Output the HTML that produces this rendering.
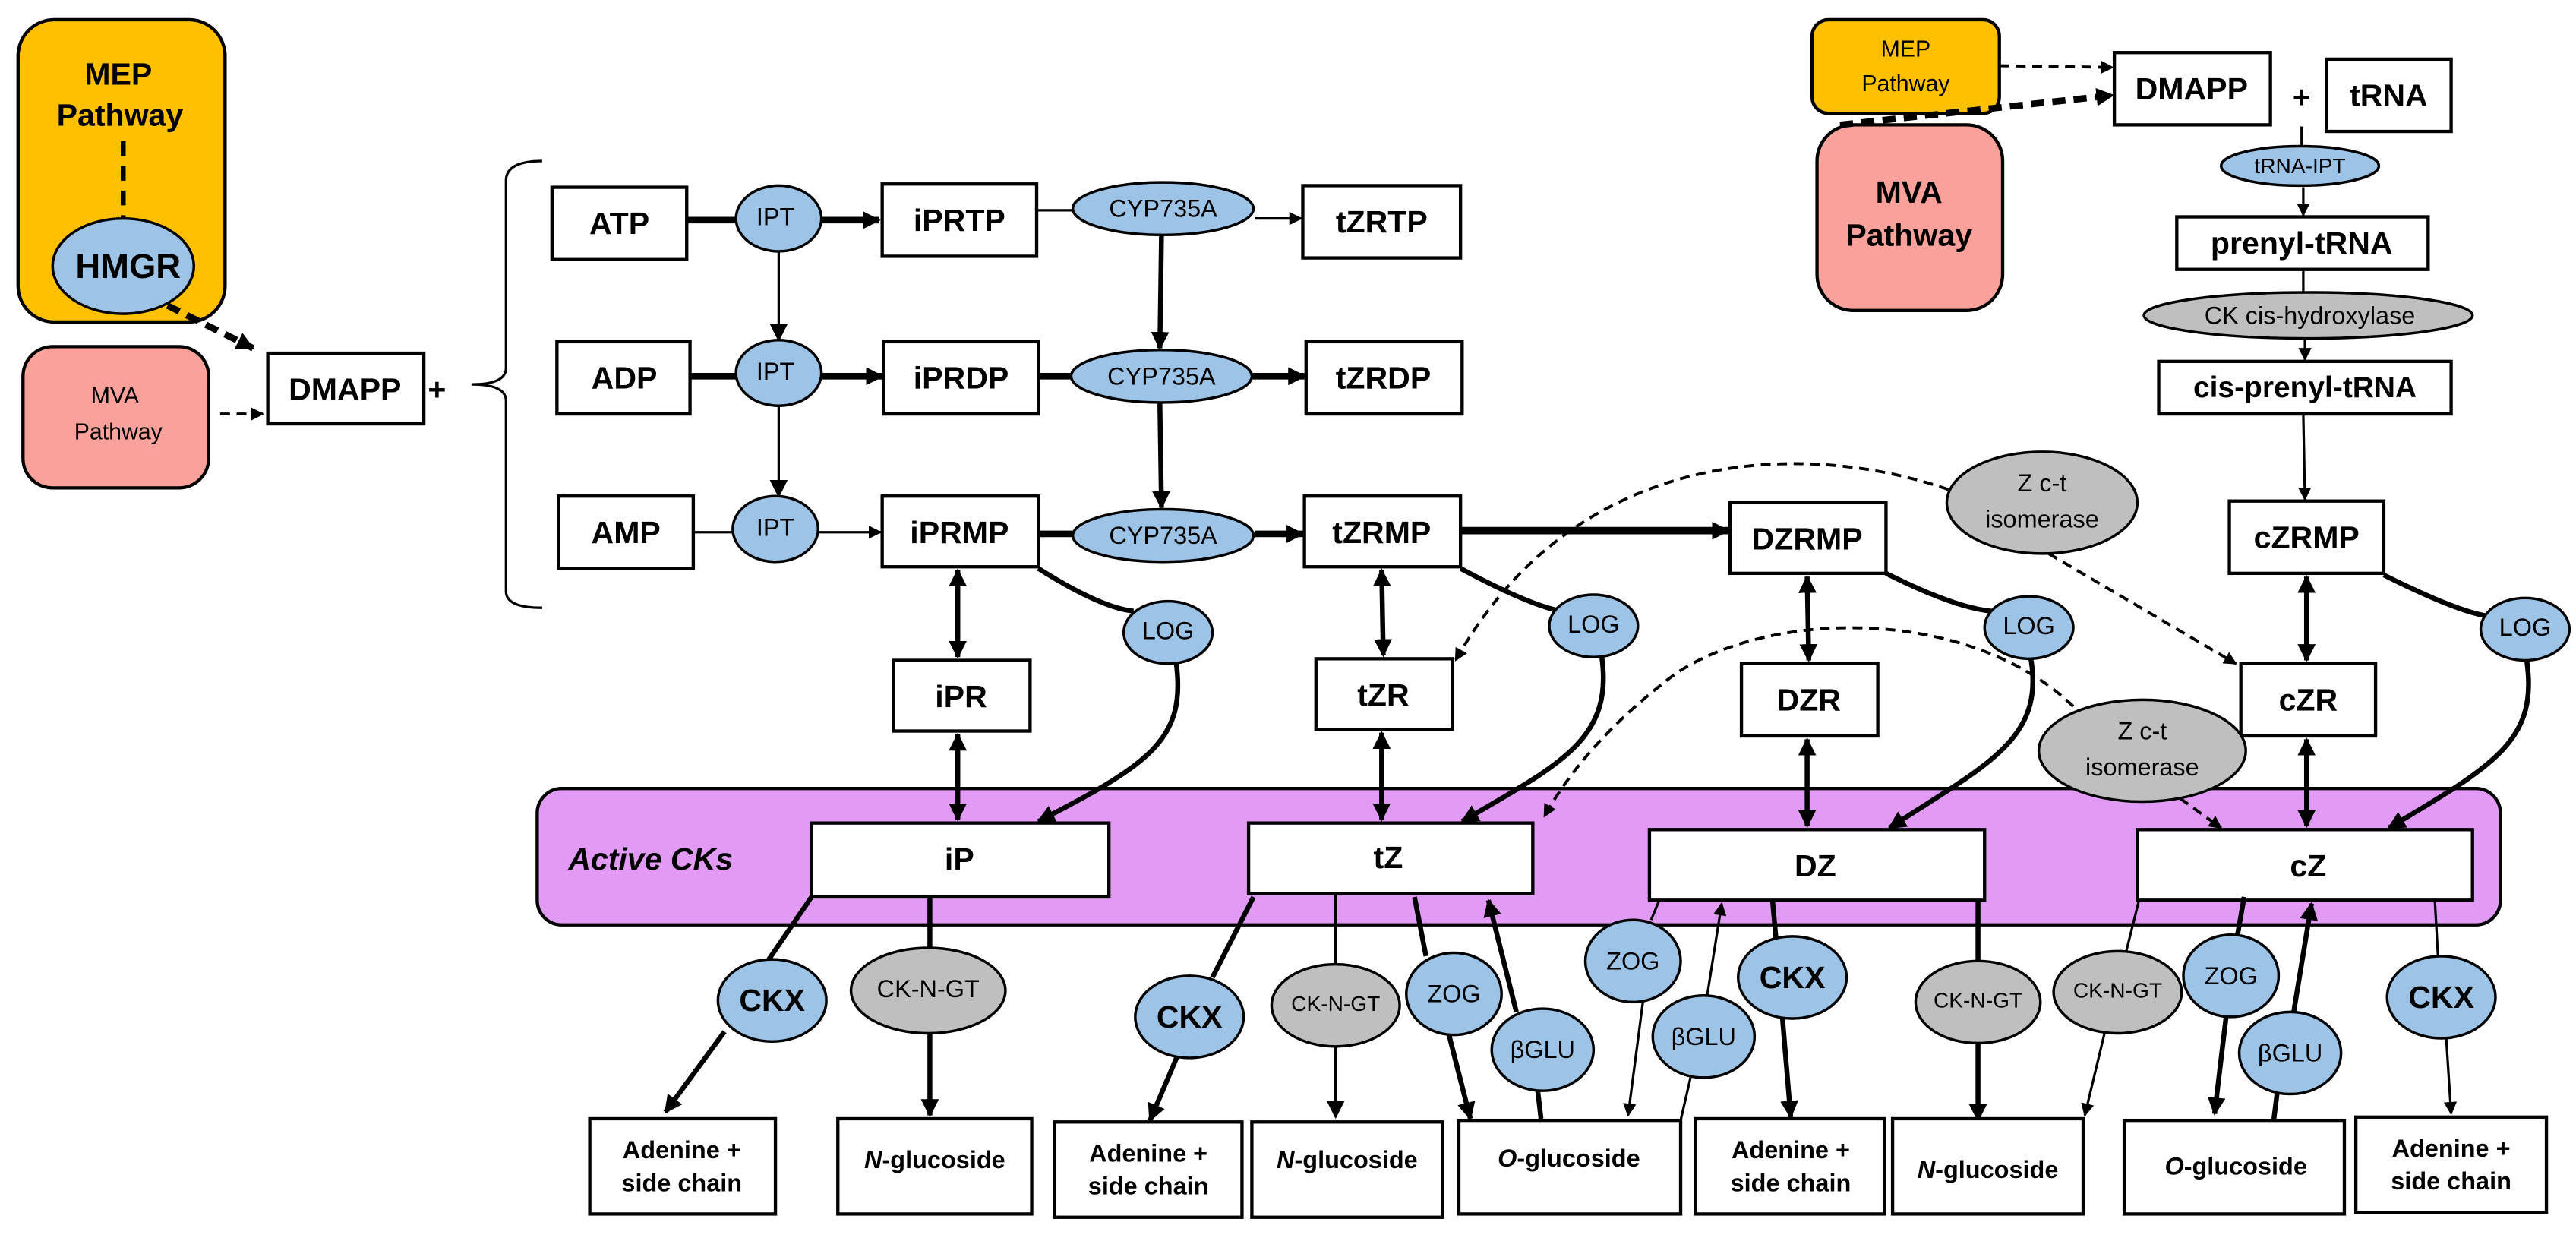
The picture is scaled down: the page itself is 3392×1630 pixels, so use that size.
<!DOCTYPE html>
<html><head><meta charset="utf-8"><style>
html,body{margin:0;padding:0;background:#fff}
svg{display:block}
text{font-family:"Liberation Sans",sans-serif;text-anchor:middle;dominant-baseline:central;fill:#000}
.b{font-weight:bold;font-size:19px}
.s{font-size:14px}
.sb{font-weight:bold;font-size:15px}
.r{fill:#fff;stroke:#000;stroke-width:2}
.bl{fill:#9DC3E6;stroke:#000;stroke-width:1.6}
.gr{fill:#BFBFBF;stroke:#000;stroke-width:1.6}
.l{stroke:#000;fill:none;stroke-width:1.5}
.t{stroke:#000;fill:none;stroke-width:3}
.d{stroke:#000;fill:none;stroke-width:1.8;stroke-dasharray:6,4}
</style></head><body>
<svg width="3392" height="1630" viewBox="0 0 1568 753.6" preserveAspectRatio="none" xmlns="http://www.w3.org/2000/svg">
<defs>
<marker id="a" viewBox="0 0 10 10" refX="9" refY="5" markerWidth="11" markerHeight="11" markerUnits="userSpaceOnUse" orient="auto-start-reverse"><path d="M0,0L10,5L0,10z"/></marker>
<marker id="m" viewBox="0 0 10 10" refX="9" refY="5" markerWidth="8" markerHeight="8" markerUnits="userSpaceOnUse" orient="auto-start-reverse"><path d="M0,0L10,5L0,10z"/></marker>
</defs>

<!-- Left MEP/MVA -->
<rect x="11" y="12" width="126" height="184" rx="22" fill="#FFC000" stroke="#000" stroke-width="2"/>
<text class="b" x="72" y="45">MEP</text>
<text class="b" x="73" y="70">Pathway</text>
<line x1="75" y1="86" x2="75" y2="133" stroke="#000" stroke-width="3" stroke-dasharray="9,6"/>
<ellipse class="bl" cx="75" cy="162" rx="43" ry="29"/>
<text class="b" x="78" y="162" style="font-size:21px">HMGR</text>
<rect x="14" y="211" width="113" height="86" rx="18" fill="#F9A19A" stroke="#000" stroke-width="2"/>
<text class="s" x="70" y="241">MVA</text>
<text class="s" x="72" y="263">Pathway</text>
<path d="M102,186 L154,212" stroke="#000" stroke-width="4" stroke-dasharray="8,5" fill="none" marker-end="url(#a)"/>
<path d="M134,252 L160,252" class="d" marker-end="url(#m)"/>
<rect class="r" x="163" y="215" width="95" height="43"/>
<text class="b" x="210" y="237">DMAPP</text>
<text class="b" x="266" y="237">+</text>
<path d="M330,98 Q308,98 308,110 L308,224 Q308,234 287,234 Q308,234 308,244 L308,360 Q308,370 330,370" class="l" stroke-width="1.2"/>

<!-- top rows -->
<rect class="r" x="336" y="114" width="82" height="44"/><text class="b" x="377" y="136">ATP</text>
<rect class="r" x="339" y="208" width="81" height="44"/><text class="b" x="380" y="230">ADP</text>
<rect class="r" x="340" y="302" width="82" height="44"/><text class="b" x="381" y="324">AMP</text>
<line x1="418" y1="134" x2="449" y2="134" stroke="#000" stroke-width="4"/>
<line x1="420" y1="229" x2="449" y2="229" stroke="#000" stroke-width="4"/>
<line x1="422" y1="324" x2="447" y2="324" class="l"/>
<line x1="474" y1="153" x2="474" y2="207" class="l" stroke-width="2" marker-end="url(#a)"/>
<line x1="474" y1="247" x2="474" y2="302" class="l" stroke-width="2" marker-end="url(#a)"/>
<line x1="500" y1="134" x2="535" y2="134" stroke="#000" stroke-width="4" marker-end="url(#a)"/>
<line x1="500" y1="229" x2="537" y2="229" stroke="#000" stroke-width="4" marker-end="url(#a)"/>
<line x1="498" y1="324" x2="536" y2="324" class="l" marker-end="url(#m)"/>
<ellipse class="bl" cx="474" cy="133" rx="26" ry="20"/><text class="s" x="472" y="132" style="font-size:15px">IPT</text>
<ellipse class="bl" cx="474" cy="227" rx="26" ry="20"/><text class="s" x="472" y="226" style="font-size:15px">IPT</text>
<ellipse class="bl" cx="472" cy="322" rx="26" ry="20"/><text class="s" x="472" y="321" style="font-size:15px">IPT</text>
<rect class="r" x="537" y="112" width="94" height="44"/><text class="b" x="584" y="134">iPRTP</text>
<rect class="r" x="538" y="208" width="94" height="44"/><text class="b" x="585" y="230">iPRDP</text>
<rect class="r" x="537" y="302" width="95" height="43"/><text class="b" x="584" y="324">iPRMP</text>
<line x1="631" y1="128" x2="653" y2="128" class="l" stroke-width="2"/>
<line x1="632" y1="229" x2="652" y2="229" stroke="#000" stroke-width="4"/>
<line x1="632" y1="325" x2="653" y2="325" stroke="#000" stroke-width="4"/>
<line x1="707" y1="143" x2="706" y2="212" class="t" marker-end="url(#a)"/>
<line x1="706" y1="245" x2="707" y2="309" class="t" marker-end="url(#a)"/>
<line x1="764" y1="133" x2="792" y2="133" class="l" stroke-width="2" marker-end="url(#m)"/>
<line x1="762" y1="229" x2="794" y2="229" stroke="#000" stroke-width="4" marker-end="url(#a)"/>
<line x1="764" y1="325" x2="793" y2="325" stroke="#000" stroke-width="4" marker-end="url(#a)"/>
<ellipse class="bl" cx="708" cy="127" rx="55" ry="16"/><text class="s" x="708" y="127" style="font-size:15px">CYP735A</text>
<ellipse class="bl" cx="707" cy="229" rx="55" ry="16"/><text class="s" x="707" y="229" style="font-size:15px">CYP735A</text>
<ellipse class="bl" cx="708" cy="326" rx="55" ry="16"/><text class="s" x="708" y="326" style="font-size:15px">CYP735A</text>
<rect class="r" x="793" y="113" width="96" height="44"/><text class="b" x="841" y="135">tZRTP</text>
<rect class="r" x="795" y="208" width="95" height="44"/><text class="b" x="842" y="230">tZRDP</text>
<rect class="r" x="794" y="302" width="95" height="43"/><text class="b" x="841" y="324">tZRMP</text>
<line x1="889" y1="323" x2="1052" y2="323" stroke="#000" stroke-width="4.5" marker-end="url(#a)"/>
<rect class="r" x="1053" y="306" width="95" height="43"/><text class="b" x="1100" y="328">DZRMP</text>

<!-- right top -->
<rect x="1103" y="12" width="114" height="57" rx="10" fill="#FFC000" stroke="#000" stroke-width="2"/>
<text class="s" x="1160" y="30">MEP</text><text class="s" x="1160" y="51">Pathway</text>
<rect x="1106" y="76" width="113" height="113" rx="22" fill="#F9A19A" stroke="#000" stroke-width="2"/>
<text class="b" x="1162" y="117">MVA</text><text class="b" x="1162" y="143">Pathway</text>
<path d="M1217,40 L1286,41" class="d" stroke-width="2" marker-end="url(#m)"/>
<path d="M1120,76 L1286,58" stroke="#000" stroke-width="4" stroke-dasharray="8,5" fill="none" marker-end="url(#a)"/>
<rect class="r" x="1287" y="32" width="95" height="44"/><text class="b" x="1334" y="54">DMAPP</text>
<text class="b" x="1401" y="59">+</text>
<rect class="r" x="1416" y="36" width="76" height="44"/><text class="b" x="1454" y="58">tRNA</text>
<line x1="1401" y1="77" x2="1401" y2="89" class="l"/>
<ellipse class="bl" cx="1400" cy="101" rx="48" ry="12"/><text class="s" x="1400" y="101" style="font-size:13px">tRNA-IPT</text>
<line x1="1402" y1="114" x2="1402" y2="131" class="l" marker-end="url(#m)"/>
<rect class="r" x="1325" y="132" width="153" height="32"/><text class="b" x="1401" y="148">prenyl-tRNA</text>
<line x1="1402" y1="164" x2="1402" y2="178" class="l"/>
<ellipse class="gr" cx="1405" cy="192" rx="100" ry="14"/><text class="s" x="1406" y="192" style="font-size:15px">CK cis-hydroxylase</text>
<line x1="1403" y1="206" x2="1403" y2="219" class="l" marker-end="url(#m)"/>
<rect class="r" x="1314" y="220" width="178" height="32"/><text class="b" x="1403" y="236" style="font-size:18px">cis-prenyl-tRNA</text>
<line x1="1402" y1="252" x2="1403" y2="304" class="l" marker-end="url(#m)"/>
<rect class="r" x="1357" y="305" width="94" height="44"/><text class="b" x="1404" y="327">cZRMP</text>

<!-- Active CKs band -->
<rect x="327" y="480" width="1195" height="83" rx="15" fill="#E29BF4" stroke="#000" stroke-width="2"/>
<text x="396" y="523" style="font-weight:bold;font-style:italic;font-size:19px">Active CKs</text>
<rect class="r" x="494" y="501" width="181" height="45"/><text class="b" x="584" y="523">iP</text>
<rect class="r" x="760" y="501" width="173" height="43"/><text class="b" x="845" y="522">tZ</text>
<rect class="r" x="1004" y="505" width="204" height="43"/><text class="b" x="1105" y="527">DZ</text>
<rect class="r" x="1301" y="505" width="204" height="43"/><text class="b" x="1405" y="527">cZ</text>

<!-- dashed isomerase arcs -->
<path d="M1186,298 C1100,268 960,270 886,402" class="d" marker-end="url(#m)"/>
<path d="M1247,337 L1361,404" class="d" marker-end="url(#m)"/>
<path d="M1262,430 C1200,370 1080,370 1020,410 C980,440 955,470 940,497" class="d" marker-end="url(#m)"/>
<path d="M1327,486 L1352,504" class="d" marker-end="url(#m)"/>
<ellipse class="gr" cx="1243" cy="306" rx="58" ry="31"/>
<text class="s" x="1243" y="294" style="font-size:15px">Z c-t</text><text class="s" x="1243" y="316" style="font-size:15px">isomerase</text>

<!-- middle: ribosides -->
<rect class="r" x="544" y="402" width="83" height="43"/><text class="b" x="585" y="424">iPR</text>
<rect class="r" x="801" y="401" width="83" height="43"/><text class="b" x="842" y="423">tZR</text>
<rect class="r" x="1060" y="404" width="83" height="44"/><text class="b" x="1101" y="426">DZR</text>
<rect class="r" x="1364" y="404" width="82" height="44"/><text class="b" x="1405" y="426">cZR</text>
<g class="t" stroke-width="2.5">
<line x1="583" y1="347" x2="583" y2="400" marker-start="url(#a)" marker-end="url(#a)"/>
<line x1="583" y1="447" x2="583" y2="499" marker-start="url(#a)" marker-end="url(#a)"/>
<line x1="841" y1="347" x2="842" y2="399" marker-start="url(#a)" marker-end="url(#a)"/>
<line x1="841" y1="446" x2="841" y2="499" marker-start="url(#a)" marker-end="url(#a)"/>
<line x1="1100" y1="351" x2="1101" y2="402" marker-start="url(#a)" marker-end="url(#a)"/>
<line x1="1100" y1="450" x2="1100" y2="503" marker-start="url(#a)" marker-end="url(#a)"/>
<line x1="1404" y1="351" x2="1404" y2="402" marker-start="url(#a)" marker-end="url(#a)"/>
<line x1="1404" y1="450" x2="1404" y2="503" marker-start="url(#a)" marker-end="url(#a)"/>
</g>
<!-- LOG curves -->
<g class="t" stroke-width="2.5">
<path d="M632,346 Q670,370 690,372"/>
<path d="M716,404 C722,450 700,465 632,500" marker-end="url(#a)"/>
<path d="M889,346 Q930,368 950,372"/>
<path d="M975,400 C982,450 950,465 890,500" marker-end="url(#a)"/>
<path d="M1148,349 Q1190,370 1212,372"/>
<path d="M1236,400 C1245,450 1210,465 1150,504" marker-end="url(#a)"/>
<path d="M1451,350 Q1495,372 1514,375"/>
<path d="M1538,402 C1545,450 1520,465 1454,504" marker-end="url(#a)"/>
</g>
<ellipse class="bl" cx="711" cy="385" rx="27" ry="19"/><text class="s" x="711" y="384" style="font-size:15px">LOG</text>
<ellipse class="bl" cx="970" cy="381" rx="27" ry="19"/><text class="s" x="970" y="380" style="font-size:15px">LOG</text>
<ellipse class="bl" cx="1235" cy="382" rx="27" ry="19"/><text class="s" x="1235" y="381" style="font-size:15px">LOG</text>
<ellipse class="bl" cx="1537" cy="383" rx="27" ry="19"/><text class="s" x="1537" y="382" style="font-size:15px">LOG</text>
<ellipse class="gr" cx="1304" cy="457" rx="63" ry="31"/>
<text class="s" x="1304" y="445" style="font-size:15px">Z c-t</text><text class="s" x="1304" y="467" style="font-size:15px">isomerase</text>

<!-- bottom connectors -->
<g class="t">
<line x1="494" y1="546" x2="468" y2="584"/>
<line x1="441" y1="628" x2="405" y2="677" marker-end="url(#a)"/>
<line x1="566" y1="546" x2="566" y2="578"/>
<line x1="566" y1="629" x2="566" y2="679" marker-end="url(#a)"/>
<line x1="763" y1="546" x2="738" y2="595"/>
<line x1="717" y1="642" x2="700" y2="682" marker-end="url(#a)"/>
<line x1="813" y1="544" x2="813" y2="587" stroke-width="2"/>
<line x1="813" y1="637" x2="813" y2="680" stroke-width="2" marker-end="url(#a)"/>
<line x1="861" y1="546" x2="868" y2="582"/>
<line x1="882" y1="630" x2="895" y2="681" marker-end="url(#a)"/>
<line x1="938" y1="681" x2="936" y2="664"/>
<line x1="923" y1="616" x2="906" y2="548" marker-end="url(#a)"/>
<line x1="1079" y1="549" x2="1081" y2="571"/>
<line x1="1085" y1="620" x2="1090" y2="680" marker-end="url(#a)"/>
<line x1="1204" y1="548" x2="1204" y2="585"/>
<line x1="1204" y1="634" x2="1204" y2="682" marker-end="url(#a)"/>
<line x1="1366" y1="546" x2="1362" y2="569"/>
<line x1="1355" y1="619" x2="1348" y2="678" marker-end="url(#a)"/>
<line x1="1384" y1="682" x2="1386" y2="666"/>
<line x1="1396" y1="617" x2="1407" y2="550" marker-end="url(#a)"/>
</g>
<g class="l">
<line x1="1010" y1="548" x2="1005" y2="560"/>
<line x1="1000" y1="610" x2="991" y2="679" marker-end="url(#m)"/>
<line x1="1023" y1="682" x2="1029" y2="656"/>
<line x1="1039" y1="607" x2="1048" y2="550" marker-end="url(#m)"/>
<line x1="1302" y1="548" x2="1294" y2="580"/>
<line x1="1281" y1="629" x2="1269" y2="679" marker-end="url(#m)"/>
<line x1="1482" y1="547" x2="1484" y2="582"/>
<line x1="1489" y1="632" x2="1492" y2="678" marker-end="url(#m)"/>
</g>

<!-- bottom enzymes -->
<ellipse class="bl" cx="470" cy="609" rx="33" ry="25"/><text class="b" x="470" y="609">CKX</text>
<ellipse class="gr" cx="565" cy="603" rx="47" ry="26"/><text class="s" x="565" y="602" style="font-size:15px">CK-N-GT</text>
<ellipse class="bl" cx="724" cy="619" rx="33" ry="25"/><text class="b" x="724" y="619">CKX</text>
<ellipse class="gr" cx="813" cy="612" rx="39" ry="25"/><text class="s" x="813" y="611" style="font-size:13px">CK-N-GT</text>
<ellipse class="bl" cx="885" cy="605" rx="29" ry="25"/><text class="s" x="885" y="605" style="font-size:15px">ZOG</text>
<ellipse class="bl" cx="939" cy="639" rx="31" ry="25"/><text class="s" x="939" y="639" style="font-size:15px">βGLU</text>
<ellipse class="bl" cx="994" cy="585" rx="29" ry="25"/><text class="s" x="994" y="585" style="font-size:15px">ZOG</text>
<ellipse class="bl" cx="1037" cy="631" rx="31" ry="25"/><text class="s" x="1037" y="631" style="font-size:15px">βGLU</text>
<ellipse class="bl" cx="1091" cy="595" rx="33" ry="25"/><text class="b" x="1091" y="595">CKX</text>
<ellipse class="gr" cx="1204" cy="610" rx="38" ry="25"/><text class="s" x="1204" y="609" style="font-size:13px">CK-N-GT</text>
<ellipse class="gr" cx="1289" cy="604" rx="39" ry="25"/><text class="s" x="1289" y="603" style="font-size:13px">CK-N-GT</text>
<ellipse class="bl" cx="1358" cy="594" rx="29" ry="25"/><text class="s" x="1358" y="594" style="font-size:15px">ZOG</text>
<ellipse class="bl" cx="1394" cy="641" rx="31" ry="25"/><text class="s" x="1394" y="641" style="font-size:15px">βGLU</text>
<ellipse class="bl" cx="1486" cy="607" rx="33" ry="25"/><text class="b" x="1486" y="607">CKX</text>

<!-- bottom product boxes -->
<rect class="r" x="359" y="681" width="113" height="58"/><text class="sb" x="415" y="700">Adenine +</text><text class="sb" x="415" y="720">side chain</text>
<rect class="r" x="510" y="681" width="118" height="58"/><text class="sb" x="569" y="706"><tspan font-style="italic">N</tspan>-glucoside</text>
<rect class="r" x="642" y="683" width="114" height="58"/><text class="sb" x="699" y="702">Adenine +</text><text class="sb" x="699" y="722">side chain</text>
<rect class="r" x="762" y="683" width="116" height="58"/><text class="sb" x="820" y="706"><tspan font-style="italic">N</tspan>-glucoside</text>
<rect class="r" x="888" y="682" width="135" height="57"/><text class="sb" x="955" y="705"><tspan font-style="italic">O</tspan>-glucoside</text>
<rect class="r" x="1032" y="681" width="115" height="58"/><text class="sb" x="1090" y="700">Adenine +</text><text class="sb" x="1090" y="720">side chain</text>
<rect class="r" x="1152" y="681" width="116" height="58"/><text class="sb" x="1210" y="712"><tspan font-style="italic">N</tspan>-glucoside</text>
<rect class="r" x="1293" y="682" width="134" height="57"/><text class="sb" x="1361" y="710"><tspan font-style="italic">O</tspan>-glucoside</text>
<rect class="r" x="1434" y="680" width="116" height="58"/><text class="sb" x="1492" y="699">Adenine +</text><text class="sb" x="1492" y="719">side chain</text>
</svg>
</body></html>
